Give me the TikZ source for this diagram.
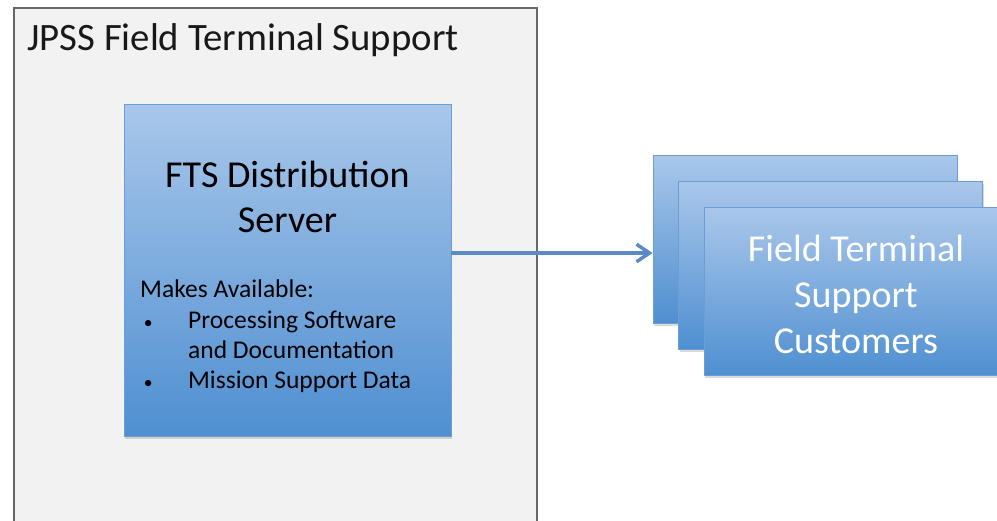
\documentclass[tikz,border=0pt]{standalone}
\usepackage{fontspec}
\setmainfont{Carlito}
\usetikzlibrary{positioning,shadows,arrows.meta}

\definecolor{framefill}{HTML}{F2F2F2}
\definecolor{frameedge}{HTML}{676767}
\definecolor{boxtop}{HTML}{A9C7EA}
\definecolor{boxbot}{HTML}{4F8FD1}
\definecolor{boxedge}{HTML}{6C9DD5}
\definecolor{flowblue}{HTML}{5A8BC8}
\newcommand{\pxu}{0.03cm}
\newcommand{\listdot}{\makebox[40.9pt][l]{\hspace*{3pt}{\fontsize{15}{15}\selectfont\textbullet}}}

\begin{document}
\begin{tikzpicture}[x=\pxu, y=-\pxu,
    bluebox/.style={rectangle, draw=boxedge, line width=0.8pt, top color=boxtop, bottom color=boxbot,
        inner sep=0pt, minimum width=304*\pxu, minimum height=168*\pxu,
        drop shadow={opacity=0.3, shadow xshift=1pt, shadow yshift=-2.5pt}},
    bigtext/.style={font=\fontsize{32.5}{38}\selectfont, align=center, inner sep=0pt},
    listtext/.style={font=\fontsize{21.8}{25.8}\selectfont, align=left, inner sep=0pt},
    flow/.style={draw=flowblue, line width=3pt, -{Straight Barb[length=11pt,width=15pt]}}]
    \useasboundingbox (0,0) rectangle (997,520);
    \clip (0,0) rectangle (997,520);
    % outer frame
    \draw[fill=framefill, draw=frameedge, line width=1.7pt] (14,8) rectangle (537,545);
    \node[bigtext, anchor=base west, text=black!90, font=\fontsize{33.1}{38}\selectfont] (title) at (27,50) {JPSS Field Terminal Support};
    % server
    \node[bluebox, minimum width=327*\pxu, minimum height=332*\pxu] (server) at (287.5,270) {};
    \node[bigtext] (servername) at (287.5,197) {FTS Distribution\\Server};
    \node[listtext, anchor=north west] (serverlist) at (140,280) {Makes Available:\\
        \listdot Processing Software\\
        \hspace*{40.9pt}and Documentation\\
        \listdot Mission Support Data};
    % customers
    \node[bluebox] (cust1) at (805,239) {};
    \node[bluebox] (cust2) at (830.5,265.5) {};
    \node[bluebox] (cust3) at (856,291.5) {};
    \node[bigtext, text=white, font=\fontsize{32.5}{39}\selectfont] (custname) at ([yshift=-2.5pt]cust3.center) {Field Terminal\\Support\\Customers};
    % link
    \coordinate (flowy) at (0,253);
    \draw[flow] (server.east |- flowy) -- (cust1.west |- flowy);
\end{tikzpicture}
\end{document}
